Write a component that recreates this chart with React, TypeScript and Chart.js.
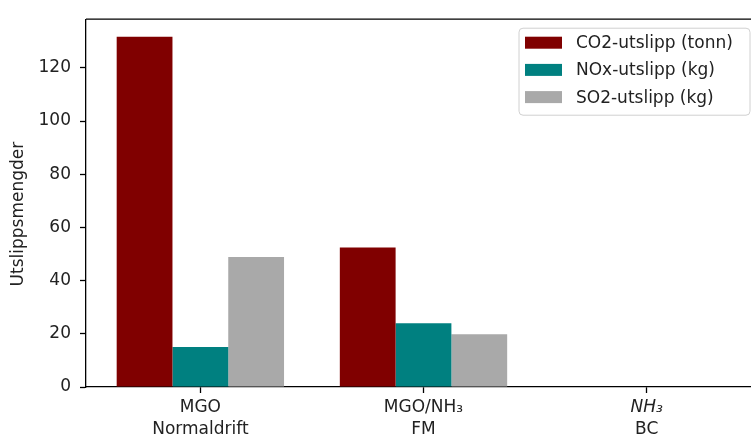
import { useEffect, useRef } from 'react';
import { Chart, registerables } from 'chart.js';

Chart.register(...registerables);

// Scenario names (two lines each) and the three emission series
const categories: string[][] = [
  ['MGO', 'Normaldrift'],
  ['MGO/NH₃', 'FM'],
  ['NH₃', 'BC'],
];
const seriesLabels = ['CO2-utslipp (tonn)', 'NOx-utslipp (kg)', 'SO2-utslipp (kg)'];
const co2Values = [131.7, 52.5, 0];
const noxValues = [15.0, 24.0, 0];
const so2Values = [48.9, 19.8, 0];
const seriesColors = ['#800000', '#008080', '#a9a9a9'];
const yTickValues = [0, 20, 40, 60, 80, 100, 120];
const yAxisTitle = 'Utslippsmengder';

const FONT = '"DejaVu Sans", sans-serif';
const FONT_SIZE = 17;
const TEXT_COLOR = '#222';

// Categories whose first line is set as math (italic) text
const mathFirstLine = [false, false, true];

const framePlugin = {
  id: 'frameAndLabels',
  afterDraw(chart: any) {
    const { ctx, chartArea } = chart;
    const xScale = chart.scales.x;
    ctx.save();

    // top and right spines
    ctx.strokeStyle = '#000';
    ctx.lineWidth = 1.3;
    ctx.beginPath();
    ctx.moveTo(chartArea.left, chartArea.top);
    ctx.lineTo(chartArea.right, chartArea.top);
    ctx.lineTo(chartArea.right, chartArea.bottom);
    ctx.stroke();

    // x category labels
    ctx.fillStyle = TEXT_COLOR;
    ctx.textAlign = 'center';
    ctx.textBaseline = 'middle';
    categories.forEach((lines, i) => {
      const px = xScale.getPixelForValue(i);
      lines.forEach((line, j) => {
        const italic = j === 0 && mathFirstLine[i];
        ctx.font = `${italic ? 'italic ' : ''}${FONT_SIZE}px ${FONT}`;
        ctx.fillText(line, px, chartArea.bottom + 21 + j * 22);
      });
    });

    // y axis title
    ctx.font = `${FONT_SIZE}px ${FONT}`;
    ctx.translate(19, (chartArea.top + chartArea.bottom) / 2 + 11);
    ctx.rotate(-Math.PI / 2);
    ctx.fillText(yAxisTitle, 0, 0);
    ctx.setTransform(1, 0, 0, 1, 0, 0);

    // legend box in the upper right
    const boxRight = 750;
    const boxLeft = 519;
    const boxTop = chartArea.top + 9;
    const boxBottom = boxTop + 87;
    const r = 4;
    ctx.beginPath();
    ctx.moveTo(boxLeft + r, boxTop);
    ctx.lineTo(boxRight - r, boxTop);
    ctx.arcTo(boxRight, boxTop, boxRight, boxTop + r, r);
    ctx.lineTo(boxRight, boxBottom - r);
    ctx.arcTo(boxRight, boxBottom, boxRight - r, boxBottom, r);
    ctx.lineTo(boxLeft + r, boxBottom);
    ctx.arcTo(boxLeft, boxBottom, boxLeft, boxBottom - r, r);
    ctx.lineTo(boxLeft, boxTop + r);
    ctx.arcTo(boxLeft, boxTop, boxLeft + r, boxTop, r);
    ctx.closePath();
    ctx.fillStyle = 'rgba(255,255,255,0.8)';
    ctx.fill();
    ctx.strokeStyle = '#d0d0d0';
    ctx.lineWidth = 1;
    ctx.stroke();

    ctx.font = `${FONT_SIZE}px ${FONT}`;
    ctx.textAlign = 'left';
    ctx.textBaseline = 'middle';
    chart.data.datasets.forEach((ds: any, i: number) => {
      const cy = boxTop + 14.5 + i * 27.2;
      ctx.fillStyle = ds.backgroundColor;
      ctx.fillRect(boxLeft + 6, cy - 6, 37, 12);
      ctx.fillStyle = TEXT_COLOR;
      ctx.fillText(ds.label, boxLeft + 57, cy + 1);
    });

    ctx.restore();
  },
};

export default function App() {
  const canvasRef = useRef<HTMLCanvasElement | null>(null);

  useEffect(() => {
    const canvas = canvasRef.current;
    if (!canvas) return;
    const seriesValues = [co2Values, noxValues, so2Values];
    const chart = new Chart(canvas, {
      type: 'bar',
      data: {
        datasets: seriesValues.map((vals, s) => ({
          label: seriesLabels[s],
          data: vals.map((v, i) => ({ x: i, y: v })),
          backgroundColor: seriesColors[s],
          borderWidth: 0,
          categoryPercentage: 0.75,
          barPercentage: 1.0,
        })),
      },
      options: {
        animation: false,
        responsive: false,
        devicePixelRatio: 1,
        layout: { padding: { top: 16, right: 10, left: 0, bottom: 0 } },
        plugins: {
          legend: { display: false },
          tooltip: { enabled: false },
        },
        scales: {
          x: {
            type: 'linear',
            min: -0.5125,
            max: 2.5125,
            offset: false,
            afterBuildTicks: (scale: any) => {
              scale.ticks = categories.map((_, i) => ({ value: i }));
            },
            afterFit: (scale: any) => {
              scale.height = 57;
            },
            ticks: {
              autoSkip: false,
              callback: () => '',
              font: { family: FONT, size: FONT_SIZE },
            },
            grid: {
              offset: false,
              drawOnChartArea: false,
              drawTicks: true,
              tickLength: 6,
              color: '#000',
              tickWidth: 1.3,
            },
            border: { display: true, color: '#000', width: 1.3 },
          },
          y: {
            type: 'linear',
            min: 0,
            max: 138.3,
            afterBuildTicks: (scale: any) => {
              scale.ticks = yTickValues.map((v) => ({ value: v }));
            },
            afterFit: (scale: any) => {
              scale.width = 86;
            },
            ticks: {
              autoSkip: false,
              padding: 9,
              color: TEXT_COLOR,
              font: { family: FONT, size: FONT_SIZE },
              callback: (v: any) => String(v),
            },
            grid: {
              drawOnChartArea: false,
              drawTicks: true,
              tickLength: 6,
              color: '#000',
              tickWidth: 1.3,
            },
            border: { display: true, color: '#000', width: 1.3 },
          },
        },
      },
      plugins: [framePlugin],
    });
    return () => chart.destroy();
  }, []);

  return (
    <div
      style={{
        position: 'fixed',
        left: 0,
        top: 0,
        width: 751,
        height: 444,
        overflow: 'hidden',
        background: '#fff',
      }}
    >
      <canvas ref={canvasRef} width={771} height={444} style={{ display: 'block' }} />
    </div>
  );
}
